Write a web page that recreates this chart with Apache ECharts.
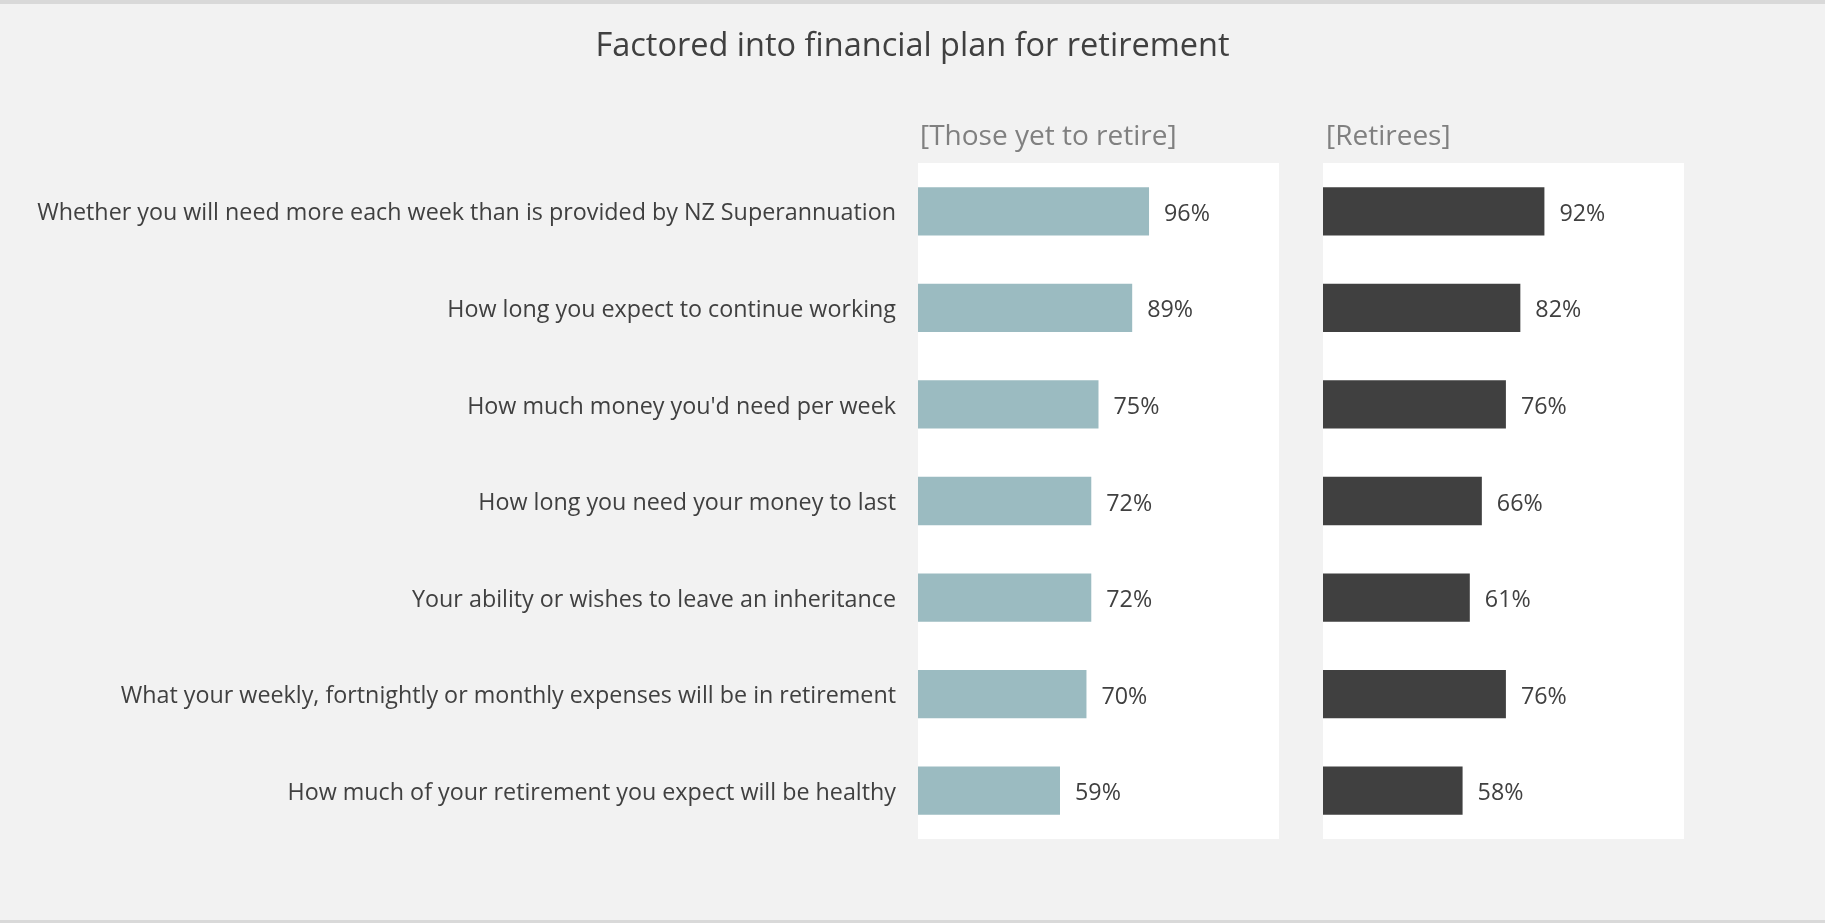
<!DOCTYPE html>
<html>
<head>
<meta charset="utf-8">
<script src="https://cdn.jsdelivr.net/npm/echarts@6/dist/echarts.min.js"></script>
<style>
html, body { margin: 0; padding: 0; background: #f2f2f2; }
#main { width: 1825px; height: 923px; }
</style>
</head>
<body>
<div id="main"></div>
<script>
var categories = [
    "Whether you will need more each week than is provided by NZ Superannuation",
    "How long you expect to continue working",
    "How much money you'd need per week",
    "How long you need your money to last",
    "Your ability or wishes to leave an inheritance",
    "What your weekly, fortnightly or monthly expenses will be in retirement",
    "How much of your retirement you expect will be healthy"
];
var yetToRetire = [96, 89, 75, 72, 72, 70, 59];
var retirees = [92, 82, 76, 66, 61, 76, 58];

var font = "'Open Sans', sans-serif";
var chart = echarts.init(document.getElementById('main'));

var option = {
    backgroundColor: '#f2f2f2',
    animation: false,
    title: [
        {
            text: 'Factored into financial plan for retirement',
            left: 'center',
            top: 30,
            padding: 0,
            textStyle: { fontFamily: font, fontSize: 32.5, fontWeight: 'normal', color: '#404040' }
        },
        {
            text: '[Those yet to retire]',
            left: 920,
            top: 123,
            padding: 0,
            textStyle: { fontFamily: font, fontSize: 28, fontWeight: 'normal', color: '#808080' }
        },
        {
            text: '[Retirees]',
            left: 1326,
            top: 123,
            padding: 0,
            textStyle: { fontFamily: font, fontSize: 28, fontWeight: 'normal', color: '#808080' }
        }
    ],
    graphic: [
        { type: 'rect', shape: { x: 0, y: 0, width: 1825, height: 4 }, style: { fill: '#d9d9d9' } },
        { type: 'rect', shape: { x: 0, y: 920, width: 1825, height: 3 }, style: { fill: '#d9d9d9' } }
    ],
    grid: [
        { left: 918, top: 163, width: 361, height: 676, show: true, backgroundColor: '#ffffff', borderWidth: 0 },
        { left: 1323, top: 163, width: 361, height: 676, show: true, backgroundColor: '#ffffff', borderWidth: 0 }
    ],
    xAxis: [
        { gridIndex: 0, type: 'value', min: 0, max: 150, show: false },
        { gridIndex: 1, type: 'value', min: 0, max: 150, show: false }
    ],
    yAxis: [
        {
            gridIndex: 0, type: 'category', inverse: true, data: categories,
            axisLine: { show: false }, axisTick: { show: false }, splitLine: { show: false },
            axisLabel: { margin: 22, verticalAlign: 'top', lineHeight: 5, fontFamily: font, fontSize: 23.3, color: '#404040' }
        },
        {
            gridIndex: 1, type: 'category', inverse: true, data: categories,
            axisLine: { show: false }, axisTick: { show: false }, splitLine: { show: false },
            axisLabel: { show: false }
        }
    ],
    series: [
        {
            name: 'Those yet to retire',
            type: 'bar',
            xAxisIndex: 0, yAxisIndex: 0,
            data: yetToRetire,
            barWidth: '50%',
            itemStyle: { color: '#9bbbc1' },
            label: { show: true, position: 'right', distance: 15, offset: [0, 3], formatter: '{c}%', fontFamily: font, fontSize: 23.3, color: '#404040' }
        },
        {
            name: 'Retirees',
            type: 'bar',
            xAxisIndex: 1, yAxisIndex: 1,
            data: retirees,
            barWidth: '50%',
            itemStyle: { color: '#404040' },
            label: { show: true, position: 'right', distance: 15, offset: [0, 3], formatter: '{c}%', fontFamily: font, fontSize: 23.3, color: '#404040' }
        }
    ]
};
chart.setOption(option);
</script>
</body>
</html>
